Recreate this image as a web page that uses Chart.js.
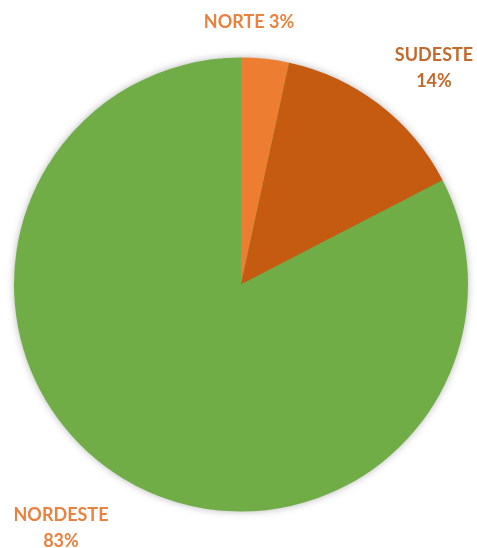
<!DOCTYPE html>
<html>
<head>
<meta charset="utf-8">
<script src="https://cdn.jsdelivr.net/npm/chart.js@4/dist/chart.umd.min.js"></script>
<style>
  html, body { margin: 0; padding: 0; background: #fff; }
  #wrap { width: 477px; height: 548px; }
</style>
</head>
<body>
<div id="wrap"><canvas id="chart"></canvas></div>
<script>
const regions = ['NORTE', 'SUDESTE', 'NORDESTE']
const shares = [3.4, 14.0, 82.6]
const pctLabels = ['3%', '14%', '83%']
const sliceColors = ['#ED7D31', '#C55A11', '#70AD47']
const labelColors = ['#E9823F', '#C26A2C', '#E9823F']

// text anchors (centre of each label block)
const labelPos = [
  { x: 249, y: 22, lines: 1 },
  { x: 434, y: 55, lines: 2 },
  { x: 61, y: 515, lines: 2 }
]

const pieShadow = {
  id: 'pieShadow',
  beforeDatasetsDraw(chart) {
    const arc = chart.getDatasetMeta(0).data[0]
    if (!arc) return
    const { ctx } = chart
    ctx.save()
    ctx.shadowColor = 'rgba(0,0,0,0.35)'
    ctx.shadowBlur = 9
    ctx.fillStyle = '#70AD47'
    ctx.beginPath()
    ctx.arc(arc.x, arc.y, arc.outerRadius - 1, 0, Math.PI * 2)
    ctx.fill()
    ctx.restore()
  }
}

const sliceLabels = {
  id: 'sliceLabels',
  afterDraw(chart) {
    const { ctx } = chart
    ctx.save()
    ctx.font = 'bold 18px Lato'
    ctx.textAlign = 'center'
    ctx.textBaseline = 'middle'
    regions.forEach((name, i) => {
      const p = labelPos[i]
      ctx.fillStyle = labelColors[i]
      if (p.lines === 1) {
        ctx.fillText(name + ' ' + pctLabels[i], p.x, p.y)
      } else {
        ctx.fillText(name, p.x, p.y)
        ctx.fillText(pctLabels[i], p.x, p.y + 26)
      }
    })
    ctx.restore()
  }
}

new Chart(document.getElementById('chart'), {
  type: 'pie',
  data: {
    labels: regions,
    datasets: [{
      data: shares,
      backgroundColor: sliceColors,
      borderWidth: 0
    }]
  },
  options: {
    responsive: true,
    maintainAspectRatio: false,
    animation: false,
    layout: { padding: { left: 14, right: 9, top: 57, bottom: 36 } },
    plugins: {
      legend: { display: false },
      tooltip: { enabled: false }
    }
  },
  plugins: [pieShadow, sliceLabels]
})
</script>
</body>
</html>
